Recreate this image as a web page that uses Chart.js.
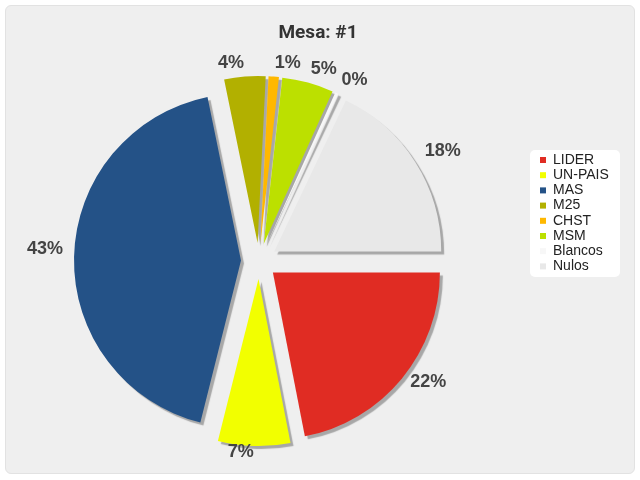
<!DOCTYPE html>
<html>
<head>
<meta charset="utf-8">
<script src="https://cdn.jsdelivr.net/npm/chart.js@4.4.0/dist/chart.umd.min.js"></script>
<style>
    html, body { margin: 0; padding: 0; background: #fff; }
    #wrap { position: relative; width: 640px; height: 480px; }
    #panel {
        position: absolute; left: 5px; top: 5px; width: 628px; height: 467px;
        background: #efefef; border: 1px solid #e2e2e2; border-radius: 6px;
    }
    #mesa { position: absolute; left: 0; top: 0; }
</style>
</head>
<body>
<div id="wrap">
    <div id="panel"></div>
    <canvas id="mesa" width="640" height="480"></canvas>
</div>
<script>
// datos de la mesa
const partidos = ['LIDER', 'UN-PAIS', 'MAS', 'M25', 'CHST', 'MSM', 'Blancos', 'Nulos'];
const votos = [22, 7, 43, 4, 1, 5, 0.3, 18];
const colores = ['#e02c23', '#f2ff00', '#245287', '#b2b000', '#ffb800', '#bce000', '#f7f7f7', '#e8e8e8'];
const titulo = 'Mesa: #1';

const SEPARACION = 18;
const RADIO = 167;

// porciones separadas del centro (sin el recorte que hace el offset de Chart.js)
// y sombra gris debajo
const sombraPlugin = {
    id: 'sombra',
    beforeDatasetsDraw(chart) {
        const area = chart.chartArea;
        const cx = (area.left + area.right) / 2;
        const cy = (area.top + area.bottom) / 2;
        chart.getDatasetMeta(0).data.forEach(arc => {
            const mid = (arc.startAngle + arc.endAngle) / 2;
            arc.x = cx + Math.cos(mid) * SEPARACION;
            arc.y = cy + Math.sin(mid) * SEPARACION;
        });
        const ctx = chart.ctx;
        ctx.save();
        ctx.shadowColor = 'rgba(0,0,0,0.3)';
        ctx.shadowOffsetX = 3;
        ctx.shadowOffsetY = 3;
        ctx.shadowBlur = 1;
    },
    afterDatasetsDraw(chart) {
        chart.ctx.restore();
    }
};

// porcentajes fuera de cada porción
const etiquetasPlugin = {
    id: 'etiquetas',
    afterDatasetsDraw(chart) {
        const ctx = chart.ctx;
        const meta = chart.getDatasetMeta(0);
        const total = votos.reduce((a, b) => a + b, 0);
        ctx.save();
        ctx.font = 'bold 18px "Liberation Sans", Arial, sans-serif';
        ctx.fillStyle = '#444';
        ctx.textBaseline = 'middle';
        meta.data.forEach((arc, i) => {
            const mid = (arc.startAngle + arc.endAngle) / 2;
            const cos = Math.cos(mid), sin = Math.sin(mid);
            const texto = Math.round(votos[i] / total * 100) + '%';
            const ax = arc.x + cos * (RADIO + 6);
            const ay = arc.y + sin * (RADIO + 6);
            ctx.textAlign = cos >= 0 ? 'left' : 'right';
            ctx.fillText(texto, ax + cos * 5, sin < 0 ? ay - 8 : ay);
        });
        ctx.restore();
    }
};

// título centrado en todo el lienzo y leyenda en recuadro blanco
const leyendaPlugin = {
    id: 'leyenda',
    afterDraw(chart) {
        const ctx = chart.ctx;
        ctx.save();
        ctx.font = 'bold 19px Roboto, "Liberation Sans", sans-serif';
        ctx.fillStyle = '#333';
        ctx.textAlign = 'center';
        ctx.textBaseline = 'middle';
        ctx.fillText(titulo, 318, 33);

        ctx.textAlign = 'left';
        ctx.fillStyle = '#ffffff';
        ctx.beginPath();
        ctx.roundRect(530, 150, 90, 127, 5);
        ctx.fill();
        ctx.font = '14px "Liberation Sans", Arial, sans-serif';
        partidos.forEach((nombre, i) => {
            const y = 160 + i * 15.2;
            ctx.fillStyle = colores[i];
            ctx.fillRect(540, y - 3, 6, 6);
            ctx.fillStyle = '#222';
            ctx.fillText(nombre, 553, y);
        });
        ctx.restore();
    }
};

new Chart(document.getElementById('mesa'), {
    type: 'pie',
    data: {
        labels: partidos,
        datasets: [{
            data: votos,
            backgroundColor: colores,
            borderWidth: 0
        }]
    },
    options: {
        responsive: false,
        animation: false,
        rotation: 90,
        radius: RADIO,
        layout: { padding: { top: 50, bottom: 8, left: 0, right: 122 } },
        plugins: {
            legend: { display: false },
            tooltip: { enabled: false },
            title: { display: false }
        }
    },
    plugins: [sombraPlugin, etiquetasPlugin, leyendaPlugin]
});
</script>
</body>
</html>
